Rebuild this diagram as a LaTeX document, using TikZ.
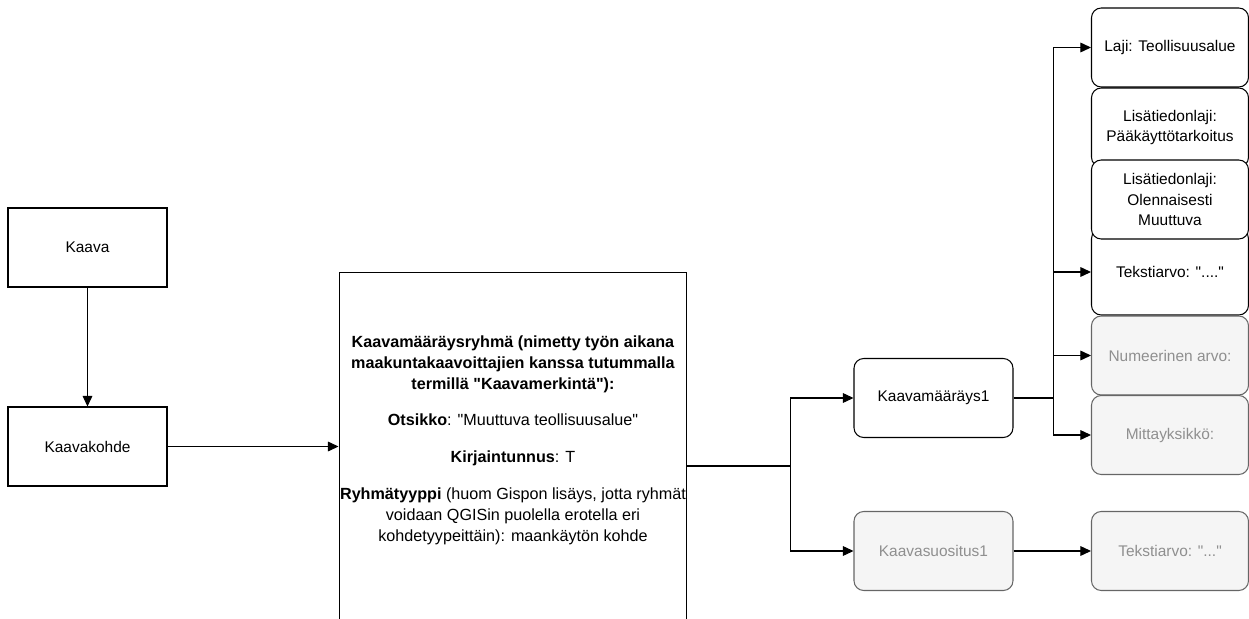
\documentclass[tikz,border=0pt]{standalone}
\usepackage{fontspec}
\setmainfont{Liberation Sans}[Ligatures=TeXOff]
\usetikzlibrary{arrows.meta, positioning}
\definecolor{paleFill}{HTML}{F5F5F5}
\definecolor{paleLine}{HTML}{666666}
\definecolor{paleText}{HTML}{8F8F8F}

\begin{document}
\begin{tikzpicture}[x=0.02cm, y=-0.02cm,
	txt/.style={font=\fontsize{8.8}{11.9}\selectfont, align=center},
	box/.style={txt, draw, fill=white, line width=0.6pt, minimum width=3.18cm, minimum height=1.58cm, inner sep=2pt},
	rbox/.style={box, rounded corners=5.5pt, minimum width=3.14cm},
	pale/.style={rbox, fill=paleFill, draw=paleLine, text=paleText},
	conn/.style={line width=0.6pt, -{Triangle[length=6pt, width=5.5pt]}}]
	\useasboundingbox (0,0) rectangle (1249,619);

	% left column
	\node[box] (kaava) at (87.5,247.5) {Kaava};
	\node[box] (kohde) at (87.5,446.5) {Kaavakohde};
	\draw[conn] (kaava) -- (kohde);

	% group box, runs past the lower edge
	\node[box, minimum width=6.96cm, minimum height=7.76cm] (grp) at (513,466) {};
	\node[txt, font=\fontsize{9.2}{11.9}\selectfont] (grptxt) at (513,440) {\textbf{Kaavamääräysryhmä (nimetty työn aikana}\\
		\textbf{maakuntakaavoittajien kanssa tutummalla}\\
		\textbf{termillä "Kaavamerkintä"):}\\[9pt]
		\textbf{Otsikko}: "Muuttuva teollisuusalue"\\[9pt]
		\textbf{Kirjaintunnus}: T\\[9pt]
		\textbf{Ryhmätyyppi} (huom Gispon lisäys, jotta ryhmät\\
		voidaan QGISin puolella erotella eri\\
		kohdetyypeittäin): maankäytön kohde};
	\draw[conn] (kohde) -- (kohde -| grp.west);

	% middle column
	\node[rbox, minimum width=3.18cm] (maar) at (933.5,398) {Kaavamääräys1};
	\node[pale, minimum width=3.18cm] (suos) at (933.5,551) {Kaavasuositus1};
	\draw[line width=0.6pt] (grp.east) -- ++(103,0) coordinate (br1);
	\draw[conn] (br1) |- (maar);
	\draw[conn] (br1) |- (suos);

	% right column
	\node[rbox] (laji) at (1170,47.5) {Laji: Teollisuusalue};
	\node[rbox] (lisa1) at (1170,127.5) {Lisätiedonlaji:\\Pääkäyttötarkoitus};
	\node[rbox, minimum height=1.72cm] (teks) at (1170,272) {Tekstiarvo: "...."};
	\node[rbox] (lisa2) at (1170,199.5) {Lisätiedonlaji:\\Olennaisesti\\Muuttuva};
	\node[pale] (num) at (1170,355.5) {Numeerinen arvo:};
	\node[pale] (mitt) at (1170,435) {Mittayksikkö:};
	\node[pale] (suosteks) at (1170,551) {Tekstiarvo: "..."};

	\draw[line width=0.6pt] (maar.east) -- ++(40,0) coordinate (br2);
	\draw[conn] (br2) |- (laji);
	\draw[conn] (br2) |- (teks);
	\draw[conn] (br2) |- (num);
	\draw[conn] (br2) |- (mitt);
	\draw[conn] (suos) -- (suosteks);
\end{tikzpicture}
\end{document}
